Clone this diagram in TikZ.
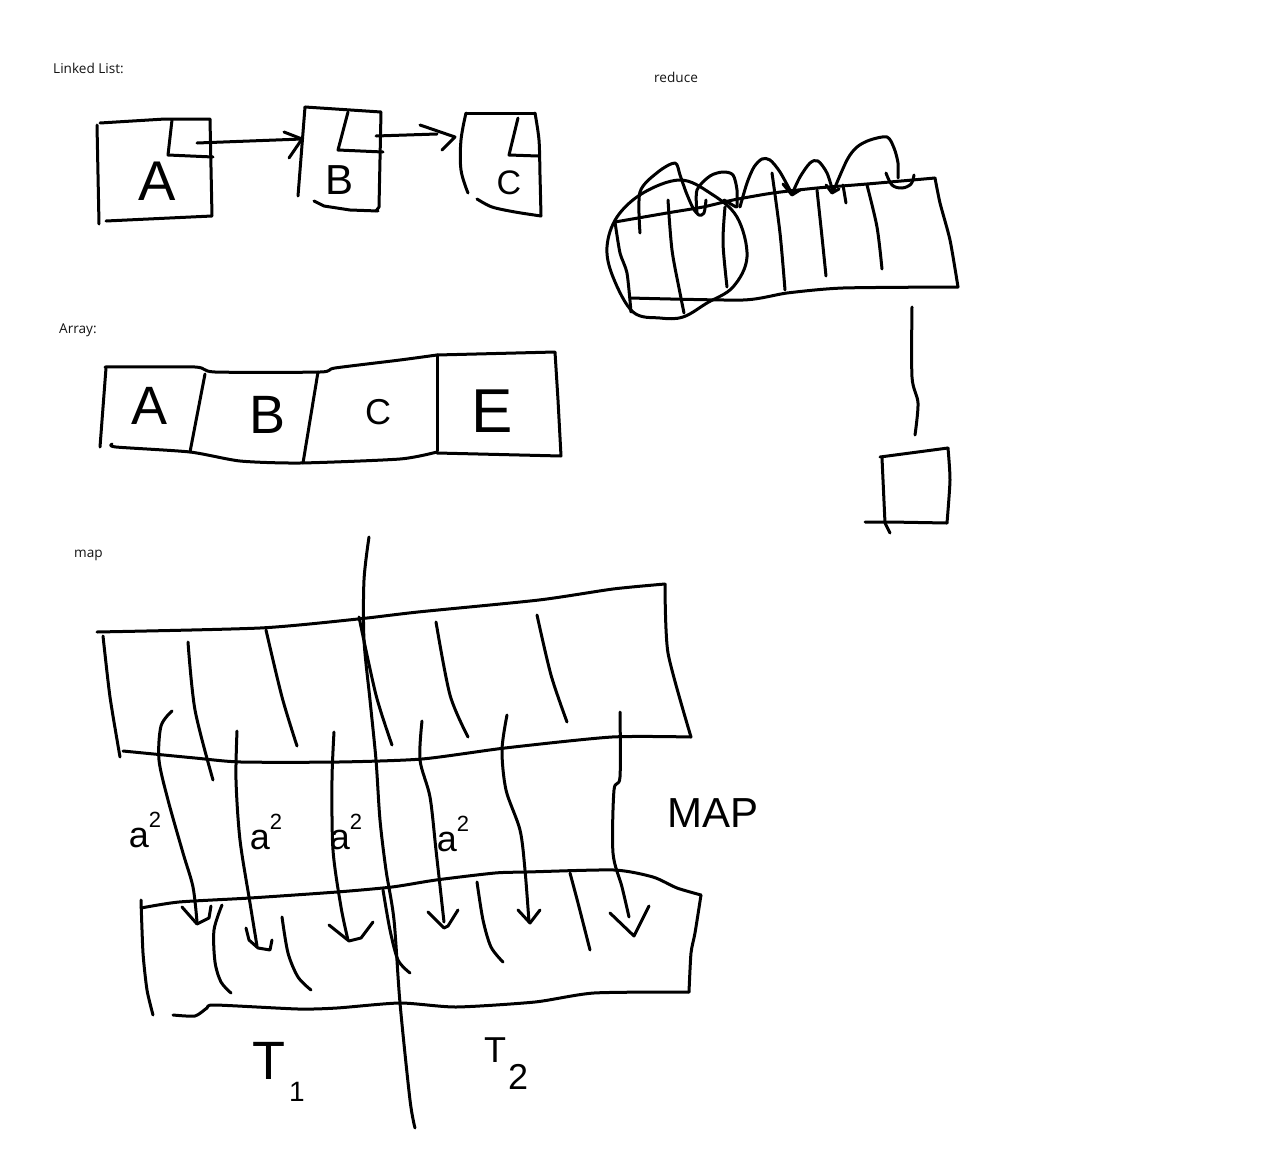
\documentclass[tikz,border=0pt]{standalone}
\usepackage{fontspec}
\setmainfont{Open Sans}
\newfontfamily\handfont{Liberation Sans}
\begin{document}
\begin{tikzpicture}[x=1pt,y=-1pt,
  sk/.style={line width=3pt,line cap=round,line join=round,black},
  lbl/.style={font=\fontsize{13.6}{16}\selectfont,anchor=west,inner sep=0pt,text=black!92},
  hand/.style={inner sep=0pt,text=black}]
\useasboundingbox[fill=white] (0,0) rectangle (1262,1154);

% ---------- labels ----------
\node[lbl] (tLL) at (53,68) {Linked List:};
\node[lbl] (tAr) at (59,330) {Array:};
\node[lbl] (tRe) at (654,77) {reduce};
\node[lbl] (tMa) at (74,555) {map};

% ---------- linked list ----------
% box A
\draw[sk] (97,125) -- (99,224);
\draw[sk] (100,123) -- (165,119) -- (210,119) -- (212,216) -- (106,221);
\draw[sk] (172,120) -- (168,155) -- (213,157);
\node[hand,font=\handfont\fontsize{56}{56}\selectfont] (lA) at (157,181) {A};
% box B
\draw[sk] (305,107) -- (298,196);
\draw[sk] (305,107) -- (381,112) -- (379,207) -- (376,211);
\draw[sk] (314,201) -- (324,206) -- (350,210) -- (378,211);
\draw[sk] (348,112) -- (338,150) -- (383,152);
\node[hand,font=\handfont\fontsize{42}{42}\selectfont] (lB) at (340,180) {B};
% box C
\draw[sk] plot[smooth,tension=0.6] coordinates {(466,113) (461,140) (461,170) (468,193)};
\draw[sk] (466,113) -- (535,113);
\draw[sk] plot[smooth,tension=0.5] coordinates {(535,113) (539,140) (540,175) (541,216)};
\draw[sk] plot[smooth,tension=0.5] coordinates {(477,199) (492,207) (515,212) (541,216)};
\draw[sk] (518,118) -- (509,155) -- (538,156);
\node[hand,font=\handfont\fontsize{34}{34}\selectfont] (lC) at (509,183) {C};
% pointers
\coordinate (pA) at (197,143);
\coordinate (pB) at (302,139);
\draw[sk] (pA) -- (pB);
\draw[sk] (284,132) -- (pB) -- (289,158);
\coordinate (pB2) at (376,136);
\coordinate (pC) at (437,134);
\draw[sk] (pB2) -- (pC);
\draw[sk] (420,125) -- (455,137) -- (442,150);

% ---------- array ----------
\draw[sk] (106,368) -- (100,447);
\draw[sk] plot[smooth,tension=0.4] coordinates {(105,367) (195,367) (215,372) (320,372) (335,368) (400,360) (437,355)};
\draw[sk] (437,355) -- (555,352) -- (558,400) -- (561,456) -- (437,453);
\draw[sk] plot[smooth,tension=0.4] coordinates {(112,444) (116,447) (190,452) (240,461) (300,463) (400,459) (437,452)};
\draw[sk] (205,374) -- (190,452);
\draw[sk] (318,372) -- (303,463);
\draw[sk] (437,355) -- (437,451);
\node[hand,font=\handfont\fontsize{54}{54}\selectfont] (aA) at (150,406) {A};
\node[hand,font=\handfont\fontsize{54}{54}\selectfont] (aB) at (268,415) {B};
\node[hand,font=\handfont\fontsize{36}{36}\selectfont] (aC) at (378,412) {C};
\node[hand,font=\handfont\fontsize{62}{62}\selectfont] (aE) at (492,411) {E};

% ---------- reduce ----------
\draw[sk] plot[smooth,tension=0.4] coordinates {(615,222) (667,213) (703,207) (733,200) (773,193) (817,188) (867,184) (935,178)};
\draw[sk] plot[smooth,tension=0.4] coordinates {(935,178) (940,203) (950,240) (958,287)};
\draw[sk] plot[smooth,tension=0.4] coordinates {(958,287) (843,288) (787,293) (743,300) (630,298)};
\draw[sk] plot[smooth,tension=0.4] coordinates {(615,222) (620,253) (627,273) (631,312)};
% dividers
\draw[sk] plot[smooth] coordinates {(668,200) (672,250) (680,293) (684,313)};
\draw[sk] plot[smooth] coordinates {(725,207) (723,243) (727,287)};
\draw[sk] plot[smooth] coordinates {(772,173) (780,233) (785,290)};
\draw[sk] plot[smooth] coordinates {(817,190) (822,237) (826,276)};
\draw[sk] plot[smooth] coordinates {(867,185) (877,227) (882,269)};
\draw[sk] (843,185) -- (846,203);
% loop around first cells
\draw[sk] plot[smooth cycle,tension=0.6] coordinates {(617,217) (643,193) (680,180) (710,193) (737,217) (747,257) (733,287) (707,303) (683,317) (660,318) (633,312) (613,277) (607,247)};
% hops
\draw[sk] plot[smooth,tension=0.5] coordinates {(640,233) (640,192) (658,172) (675,163) (680,175) (686,192) (693,208) (699,215) (704,213) (706,200)};
\draw[sk] plot[smooth,tension=0.5] coordinates {(697,213) (697,190) (710,176) (723,172) (733,175) (737,190) (737,207)};
\draw[sk] (724,200) -- (736,207);
\draw[sk] plot[smooth,tension=0.5] coordinates {(740,207) (747,183) (754,167) (762,159) (770,160) (780,172) (792,194)};
\draw[sk] (783,184) -- (792,195) -- (800,190);
\draw[sk] plot[smooth,tension=0.5] coordinates {(792,194) (800,177) (810,163) (818,161) (827,173) (833,192)};
\draw[sk] (826,185) -- (832,193) -- (839,189);
\draw[sk] plot[smooth,tension=0.5] coordinates {(833,192) (847,160) (857,147) (870,140) (887,137) (894,148) (898,163) (898,178)};
\draw[sk] plot[smooth,tension=0.6] coordinates {(886,173) (892,185) (902,188) (911,184) (914,175)};
% connector to result
\coordinate (rdTop) at (912,307);
\coordinate (rdBot) at (915,435);
\draw[sk] plot[smooth,tension=0.5] coordinates {(rdTop) (912,377) (918,403) (rdBot)};
% result box
\draw[sk] (880,457) -- (948,448);
\draw[sk] plot[smooth,tension=0.4] coordinates {(948,448) (950,480) (947,523)};
\draw[sk] (947,523) -- (890,522) -- (865,522);
\draw[sk] (882,458) -- (885,523) -- (890,533);

% ---------- map ----------
% top band
\draw[sk] plot[smooth,tension=0.4] coordinates {(97,632) (260,628) (358,619) (418,612) (539,600) (613,589) (665,584)};
\draw[sk] plot[smooth,tension=0.4] coordinates {(665,584) (668,653) (691,737)};
\draw[sk] plot[smooth,tension=0.4] coordinates {(691,737) (612,737) (505,748) (422,759) (339,762) (241,762) (195,758) (123,751)};
\draw[sk] plot[smooth,tension=0.4] coordinates {(103,636) (110,697) (120,757)};
\draw[sk] plot[smooth] coordinates {(188,642) (195,710) (213,780)};
\draw[sk] plot[smooth] coordinates {(266,630) (282,697) (297,746)};
\draw[sk] plot[smooth] coordinates {(359,617) (376,695) (392,745)};
\draw[sk] plot[smooth] coordinates {(436,622) (450,695) (468,737)};
\draw[sk] plot[smooth] coordinates {(537,615) (551,675) (567,722)};
% bottom band
\draw[sk] plot[smooth,tension=0.4] coordinates {(141,908) (179,902) (250,898) (337,892) (392,887) (436,880) (495,873) (527,872) (614,870) (653,877) (677,888) (701,895)};
\draw[sk] plot[smooth,tension=0.4] coordinates {(701,895) (695,933) (691,953) (689,992)};
\draw[sk] plot[smooth,tension=0.4] coordinates {(689,992) (594,993) (535,1002) (456,1007) (400,1003) (337,1008) (298,1009) (215,1005) (207,1008) (195,1016) (173,1015)};
\draw[sk] plot[smooth,tension=0.4] coordinates {(141,900) (143,953) (147,990) (153,1015)};
\draw[sk] plot[smooth] coordinates {(222,905) (214,930) (215,962) (221,982) (231,993)};
\draw[sk] plot[smooth] coordinates {(282,917) (288,953) (298,977) (311,990)};
\draw[sk] plot[smooth] coordinates {(383,890) (390,930) (398,960) (410,973)};
\draw[sk] plot[smooth] coordinates {(477,882) (483,920) (491,947) (503,962)};
\draw[sk] plot[smooth] coordinates {(570,873) (578,903) (590,950)};
% split line
\coordinate (spTop) at (369,537);
\coordinate (spBot) at (415,1128);
\draw[sk] plot[smooth,tension=0.5] coordinates {(spTop) (364,580) (364,640) (370,700) (376,760) (380,820) (386,870) (394,920) (400,1003) (410,1100) (spBot)};
% map arrows
\draw[sk] plot[smooth,tension=0.5] coordinates {(172,711) (161,726) (159,760) (168,800) (183,853) (193,887) (197,922)};
\draw[sk] (182,907) -- (197,924) -- (209,918) -- (211,906);
\draw[sk] plot[smooth,tension=0.5] coordinates {(237,731) (236,780) (240,840) (250,903) (257,946)};
\draw[sk] (246,928) -- (249,940) -- (258,948) -- (270,950) -- (272,940);
\draw[sk] plot[smooth,tension=0.5] coordinates {(334,732) (332,780) (333,850) (341,907) (348,940)};
\draw[sk] (329,925) -- (349,941) -- (361,938) -- (373,922);
\draw[sk] plot[smooth,tension=0.5] coordinates {(422,721) (420,760) (430,797) (436,850) (444,922)};
\draw[sk] (428,912) -- (444,928) -- (448,926) -- (458,910);
\draw[sk] plot[smooth,tension=0.5] coordinates {(507,715) (502,750) (506,790) (520,830) (525,870) (529,922)};
\draw[sk] (518,910) -- (530,923) -- (540,910);
\draw[sk] plot[smooth,tension=0.5] coordinates {(620,712) (620,777) (614,790) (613,853) (622,887) (629,917)};
\draw[sk] (610,913) -- (634,936) -- (649,906);
% hand labels
\node[hand,font=\handfont\fontsize{36}{36}\selectfont] (sq1) at (145,830) {a\raisebox{0.55em}{\fontsize{22}{22}\selectfont 2}};
\node[hand,font=\handfont\fontsize{36}{36}\selectfont] (sq2) at (266,832) {a\raisebox{0.55em}{\fontsize{22}{22}\selectfont 2}};
\node[hand,font=\handfont\fontsize{36}{36}\selectfont] (sq3) at (346,832) {a\raisebox{0.55em}{\fontsize{22}{22}\selectfont 2}};
\node[hand,font=\handfont\fontsize{36}{36}\selectfont] (sq4) at (453,834) {a\raisebox{0.55em}{\fontsize{22}{22}\selectfont 2}};
\node[hand,font=\handfont\fontsize{42}{42}\selectfont] (mapT) at (713,813) {MAP};
\node[hand,font=\handfont\fontsize{54}{54}\selectfont,anchor=west] (t1) at (252,1072) {T\hspace{4pt}\raisebox{-0.4em}{\fontsize{28}{28}\selectfont 1}};
\node[hand,font=\handfont\fontsize{36}{36}\selectfont,anchor=west] (t2) at (484,1064) {T\hspace{2pt}\raisebox{-0.75em}{\fontsize{36}{36}\selectfont 2}};
\end{tikzpicture}
\end{document}
